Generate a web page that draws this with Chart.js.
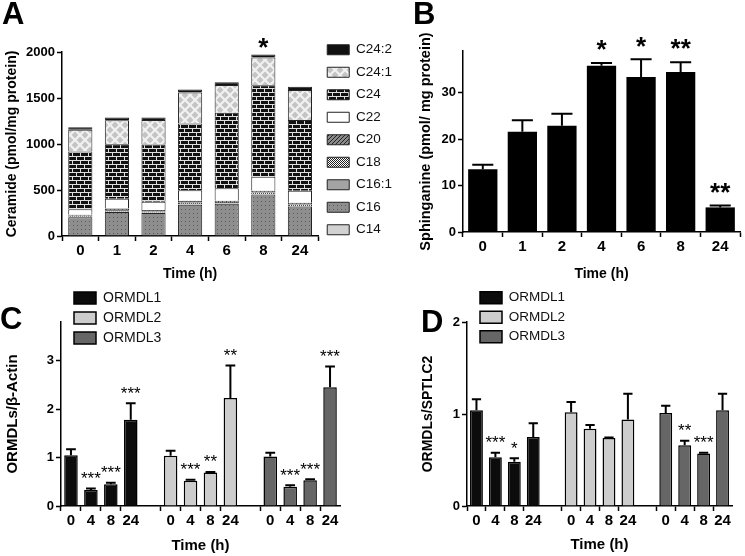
<!DOCTYPE html>
<html>
<head>
<meta charset="utf-8">
<script src="https://cdn.jsdelivr.net/npm/chart.js@4.4.0/dist/chart.umd.min.js"></script>
<style>
body { margin: 0; background: #fff; }
#wrap { position: relative; width: 745px; height: 556px; overflow: hidden; font-family: 'Liberation Sans', Arial, sans-serif; }
.panel { position: absolute; }
.panel canvas { display: block; }
.letter { position: absolute; font-weight: bold; font-size: 31px; line-height: 31px; color: #000; z-index: 5; }
</style>
</head>
<body>
<div id="wrap">
  <div class="panel" style="left:380px;top:0"><canvas id="chartB" width="365" height="290"></canvas></div>
  <div class="panel" style="left:0;top:0;z-index:2"><canvas id="chartA" width="402" height="290"></canvas></div>
  <div class="panel" style="left:0;top:290px"><canvas id="chartC" width="380" height="266"></canvas></div>
  <div class="panel" style="left:380px;top:290px"><canvas id="chartD" width="365" height="266"></canvas></div>
  <div class="letter" style="left:2px;top:-2px">A</div>
  <div class="letter" style="left:413px;top:-2px">B</div>
  <div class="letter" style="left:0px;top:303px">C</div>
  <div class="letter" style="left:421px;top:306px">D</div>
</div>
<script>
// ---- panel A: ceramide species (stacked) ----
const timesA = ['0', '1', '2', '4', '6', '8', '24'];
const speciesA = ['C14', 'C16', 'C16:1', 'C18', 'C20', 'C22', 'C24', 'C24:1', 'C24:2'];
const c14 = [5, 5, 5, 5, 5, 5, 5];
const c16 = [200, 255, 245, 335, 345, 445, 315];
const c161 = [5, 5, 5, 5, 5, 5, 5];
const c18 = [10, 15, 12, 18, 14, 18, 17];
const c20 = [10, 18, 15, 20, 15, 20, 20];
const c22 = [62, 106, 90, 115, 134, 150, 130];
const c24 = [627, 594, 623, 725, 822, 996, 768];
const c241 = [235, 261, 265, 336, 301, 301, 326];
const c242 = [29, 29, 29, 33, 29, 32, 36];
const ceramideSig = ['', '', '', '', '', '*', ''];

// ---- panel B: sphinganine ----
const sphinganine = [13.5, 21.6, 22.9, 35.8, 33.4, 34.5, 5.3];
const sphinganineErr = [14.5, 24.1, 25.5, 36.4, 37.2, 36.6, 5.7];
const sphinganineSig = ['', '', '', '*', '*', '**', '**'];

// ---- panels C and D: ORMDLs ----
const timePoints = ['0', '4', '8', '24'];
const ormdlNames = ['ORMDL1', 'ORMDL2', 'ORMDL3'];

const actin1 = [1.05, 0.33, 0.45, 1.78];
const actin1Err = [1.17, 0.36, 0.48, 2.12];
const actin1Sig = ['', '***', '***', '***'];
const actin2 = [1.04, 0.52, 0.69, 2.23];
const actin2Err = [1.14, 0.54, 0.70, 2.90];
const actin2Sig = ['', '***', '**', '**'];
const actin3 = [1.02, 0.40, 0.53, 2.45];
const actin3Err = [1.10, 0.43, 0.55, 2.88];
const actin3Sig = ['', '***', '***', '***'];

const sptlc1 = [1.04, 0.53, 0.48, 0.75];
const sptlc1Err = [1.16, 0.58, 0.52, 0.90];
const sptlc1Sig = ['', '***', '*', ''];
const sptlc2 = [1.02, 0.84, 0.74, 0.94];
const sptlc2Err = [1.13, 0.88, 0.745, 1.22];
const sptlc2Sig = ['', '', '', ''];
const sptlc3 = [1.01, 0.66, 0.57, 1.04];
const sptlc3Err = [1.09, 0.71, 0.58, 1.22];
const sptlc3Sig = ['', '**', '***', ''];

const FONT = "'Liberation Sans', Arial, sans-serif";
Chart.defaults.font.family = FONT;
Chart.defaults.color = '#000';
Chart.defaults.animation = false;

function makePattern(w, h, draw) {
    const c = document.createElement('canvas');
    c.width = w;
    c.height = h;
    const g = c.getContext('2d');
    draw(g, w, h);
    return g.createPattern(c, 'repeat');
}

const fillsA = [
    '#d2d2d2',                                  // C14
    makePattern(4, 4, (g) => {                  // C16 dotted grey
        g.fillStyle = '#8e8e8e'; g.fillRect(0, 0, 4, 4);
        g.fillStyle = '#5a5a5a'; g.fillRect(1, 1, 1, 1);
    }),
    '#a4a4a4',                                  // C16:1
    makePattern(2, 2, (g) => {                  // C18 fine checker
        g.fillStyle = '#fff'; g.fillRect(0, 0, 2, 2);
        g.fillStyle = '#222'; g.fillRect(0, 0, 1, 1); g.fillRect(1, 1, 1, 1);
    }),
    makePattern(4, 4, (g) => {                  // C20 hatch
        g.fillStyle = '#8a8a8a'; g.fillRect(0, 0, 4, 4);
        g.strokeStyle = '#222'; g.lineWidth = 1;
        g.beginPath(); g.moveTo(0, 4); g.lineTo(4, 0); g.stroke();
    }),
    '#ffffff',                                  // C22
    makePattern(8, 8, (g) => {                  // C24 bricks
        g.fillStyle = '#111'; g.fillRect(0, 0, 8, 8);
        g.fillStyle = '#e0e0e0';
        g.fillRect(0, 0, 8, 1); g.fillRect(0, 4, 8, 1);
        g.fillRect(0, 0, 1, 4); g.fillRect(4, 4, 1, 4);
    }),
    makePattern(10, 10, (g) => {                // C24:1 diamonds
        g.fillStyle = '#f2f2f2'; g.fillRect(0, 0, 10, 10);
        g.fillStyle = '#c4c4c4';
        const dia = (cx, cy) => {
            g.beginPath(); g.moveTo(cx, cy - 3.5); g.lineTo(cx + 3.5, cy);
            g.lineTo(cx, cy + 3.5); g.lineTo(cx - 3.5, cy); g.closePath(); g.fill();
        };
        dia(5, 5); dia(0, 0); dia(10, 0); dia(0, 10); dia(10, 10);
    }),
    '#111111'                                   // C24:2
];

// error bars and significance stars drawn on top of the bars
const errorBars = {
    id: 'errorBars',
    afterDatasetsDraw(chart, args, opts) {
        const ctx = chart.ctx;
        const yScale = chart.scales.y;
        ctx.save();
        chart.data.datasets.forEach((ds, di) => {
            const meta = chart.getDatasetMeta(di);
            meta.data.forEach((bar, i) => {
                if (ds.data[i] == null) return;
                let top = bar.y;
                if (ds.errors && ds.errors[i] != null) {
                    const yE = yScale.getPixelForValue(ds.errors[i]);
                    const half = bar.width * 0.36;
                    ctx.strokeStyle = '#000';
                    ctx.lineWidth = opts.lineWidth || 2;
                    ctx.beginPath();
                    ctx.moveTo(bar.x, bar.y);
                    ctx.lineTo(bar.x, yE);
                    ctx.moveTo(bar.x - half, yE);
                    ctx.lineTo(bar.x + half, yE);
                    ctx.stroke();
                    top = yE;
                }
                if (ds.sig && ds.sig[i]) {
                    ctx.font = opts.font;
                    ctx.fillStyle = '#000';
                    ctx.textAlign = 'center';
                    ctx.textBaseline = 'alphabetic';
                    ctx.fillText(ds.sig[i], bar.x, top - opts.gap + opts.size * 0.55);
                }
            });
        });
        ctx.restore();
    }
};

// nudges the legend box after layout
const legendShift = {
    id: 'legendShift',
    afterLayout(chart, args, opts) {
        const lg = chart.legend;
        if (!lg) return;
        lg.left += opts.dx || 0;
        lg.right += opts.dx || 0;
        lg.top += opts.dy || 0;
        lg.bottom += opts.dy || 0;
    }
};

function axisLines() {
    return {
        grid: { drawOnChartArea: false, drawTicks: true, tickLength: 5, tickWidth: 1.5, tickColor: '#000' },
        border: { display: true, color: '#000', width: 1.5 }
    };
}

function axisTitle(text, size, pad) {
    return { display: true, text: text, color: '#000', font: { size: size, weight: 'bold' }, padding: pad || { top: 4, bottom: 4 } };
}

// ---- chart A ----
new Chart(document.getElementById('chartA'), {
    type: 'bar',
    data: {
        labels: timesA,
        datasets: [c14, c16, c161, c18, c20, c22, c24, c241, c242].map((vals, k) => ({
            label: speciesA[k],
            data: vals,
            backgroundColor: fillsA[k],
            borderColor: '#222',
            borderWidth: 1,
            barPercentage: 0.66,
            categoryPercentage: 1,
            sig: k === speciesA.length - 1 ? ceramideSig : null
        }))
    },
    options: {
        responsive: false,
        layout: { padding: { top: 52, left: 0, right: 0, bottom: 3 } },
        plugins: {
            legend: {
                position: 'right',
                align: 'start',
                reverse: true,
                maxWidth: 84,
                labels: { boxWidth: 22, boxHeight: 10, padding: 9, color: '#111', font: { size: 13.5 } }
            },
            tooltip: { enabled: false },
            errorBars: { font: 'bold 26px ' + FONT, size: 26, gap: 13 },
            legendShift: { dx: 0, dy: -18 }
        },
        scales: {
            x: Object.assign(axisLines(), {
                stacked: true,
                ticks: { color: '#000', padding: 1, font: { size: 15, weight: 'bold' } },
                title: axisTitle('Time (h)', 14),
                afterFit: (s) => { s.height = 51; }
            }),
            y: Object.assign(axisLines(), {
                stacked: true,
                min: 0,
                max: 2000,
                ticks: { stepSize: 500, color: '#000', padding: 2, font: { size: 13, weight: 'bold' }, callback: (v) => String(v) },
                title: axisTitle('Ceramide (pmol/mg protein)', 14),
                afterFit: (s) => { s.width = 62; }
            })
        }
    },
    plugins: [errorBars, legendShift]
});

// ---- chart B ----
new Chart(document.getElementById('chartB'), {
    type: 'bar',
    data: {
        labels: timesA,
        datasets: [{
            label: 'Sphinganine',
            data: sphinganine,
            errors: sphinganineErr,
            sig: sphinganineSig,
            backgroundColor: '#000',
            borderWidth: 0,
            barPercentage: 0.74,
            categoryPercentage: 1
        }]
    },
    options: {
        responsive: false,
        layout: { padding: { top: 51, left: 33, right: 5, bottom: 3 } },
        plugins: {
            legend: { display: false },
            tooltip: { enabled: false },
            errorBars: { font: 'bold 26px ' + FONT, size: 26, gap: 19, lineWidth: 2 }
        },
        scales: {
            x: Object.assign(axisLines(), {
                ticks: { color: '#000', padding: 1, font: { size: 15, weight: 'bold' } },
                title: axisTitle('Time (h)', 14),
                afterFit: (s) => { s.height = 55; }
            }),
            y: Object.assign(axisLines(), {
                min: 0,
                max: 39,
                ticks: { stepSize: 10, includeBounds: false, color: '#000', padding: 2, font: { size: 13, weight: 'bold' } },
                title: axisTitle('Sphinganine (pmol/ mg protein)', 14.5),
                afterFit: (s) => { s.width = 50; }
            })
        }
    },
    plugins: [errorBars]
});

// ---- charts C and D: three groups of four time points ----
const groupLabels = [];
ormdlNames.forEach((n, g) => {
    if (g > 0) groupLabels.push('');
    timePoints.forEach((t) => groupLabels.push(t));
});

function spread(vals, g) {
    const out = new Array(groupLabels.length).fill(null);
    vals.forEach((v, i) => { out[g * 5 + i] = v; });
    return out;
}

const ormdlColors = ['#0c0c0c', '#cdcdcd', '#666666'];

function ormdlChart(id, series, errs, sigs, yMax, yTitle, cfg) {
    return new Chart(document.getElementById(id), {
        type: 'bar',
        data: {
            labels: groupLabels,
            datasets: ormdlNames.map((name, g) => ({
                label: name,
                data: spread(series[g], g),
                errors: spread(errs[g], g),
                sig: spread(sigs[g], g),
                backgroundColor: ormdlColors[g],
                borderColor: '#000',
                borderWidth: 1.5,
                grouped: false,
                barPercentage: 0.68,
                categoryPercentage: 1
            }))
        },
        options: {
            responsive: false,
            layout: { padding: cfg.padding },
            plugins: {
                legend: {
                    position: 'chartArea',
                    align: 'start',
                    labels: { boxWidth: 22, boxHeight: 12, padding: 6, color: '#111', font: { size: cfg.legendSize } }
                },
                tooltip: { enabled: false },
                errorBars: { font: '17px ' + FONT, size: 17, gap: 14, lineWidth: 2 },
                legendShift: { dx: 7, dy: -5 }
            },
            scales: {
                x: Object.assign(axisLines(), {
                    grid: {
                        drawOnChartArea: false, drawTicks: true, tickLength: 5, tickWidth: 1.5,
                        tickColor: (c) => (c.tick && c.tick.label !== '' ? '#000' : 'rgba(0,0,0,0)')
                    },
                    ticks: { autoSkip: false, maxRotation: 0, color: '#000', padding: 1, font: { size: 15, weight: 'bold' } },
                    title: axisTitle('Time (h)', 15, cfg.titlePad),
                    afterFit: (s) => { s.height = 50; }
                }),
                y: Object.assign(axisLines(), {
                    min: 0,
                    max: yMax,
                    ticks: { stepSize: 1, includeBounds: false, color: '#000', padding: 2, font: { size: 13, weight: 'bold' } },
                    title: axisTitle(yTitle, cfg.yTitleSize),
                    afterFit: (s) => { s.width = cfg.yWidth; }
                })
            }
        },
        plugins: [errorBars, legendShift]
    });
}

ormdlChart('chartC',
    [actin1, actin2, actin3], [actin1Err, actin2Err, actin3Err], [actin1Sig, actin2Sig, actin3Sig],
    3.8, 'ORMDLs/\u03b2-Actin',
    { padding: { top: 32, left: 0, right: 40, bottom: 0 }, yWidth: 61, legendSize: 14, yTitleSize: 15, titlePad: { top: 4, bottom: 1 } });

ormdlChart('chartD',
    [sptlc1, sptlc2, sptlc3], [sptlc1Err, sptlc2Err, sptlc3Err], [sptlc1Sig, sptlc2Sig, sptlc3Sig],
    2, 'ORMDLs/SPTLC2',
    { padding: { top: 32, left: 36, right: 13, bottom: 0 }, yWidth: 51, legendSize: 13.5, yTitleSize: 14, titlePad: { top: 4, bottom: 2.6 } });
</script>
</body>
</html>
